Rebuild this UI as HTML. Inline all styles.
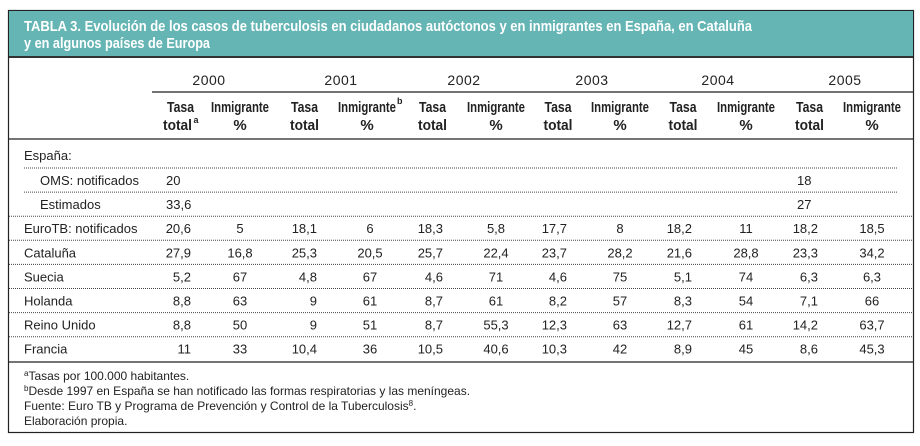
<!DOCTYPE html>
<html><head><meta charset="utf-8"><style>
html,body{margin:0;padding:0;background:#fff;}
svg{display:block;font-family:"Liberation Sans",sans-serif;}
</style></head><body>
<svg id="tbl" width="920" height="446" viewBox="0 0 920 446" xmlns="http://www.w3.org/2000/svg">
<rect x="8.5" y="10.5" width="905" height="422" fill="#fff" stroke="#222" stroke-width="1.2"/>
<rect x="9" y="11" width="904" height="45" fill="#66b5b5"/>
<line x1="9" y1="57" x2="913" y2="57" stroke="#333" stroke-width="2"/>
<text x="24" y="31" fill="#fff" font-size="15" font-weight="bold" textLength="728" lengthAdjust="spacingAndGlyphs">TABLA 3. Evolución de los casos de tuberculosis en ciudadanos autóctonos y en inmigrantes en España, en Cataluña</text>
<text x="24" y="48" fill="#fff" font-size="15" font-weight="bold" textLength="186" lengthAdjust="spacingAndGlyphs">y en algunos países de Europa</text>
<line x1="152" y1="92" x2="913" y2="92" stroke="#222" stroke-width="1.3"/>
<line x1="9" y1="139" x2="913" y2="139" stroke="#222" stroke-width="1.3"/>
<line x1="9" y1="362" x2="913" y2="362" stroke="#222" stroke-width="1.3"/>
<g id="body"></g>
<g font-size="12" fill="#222">
<text x="24" y="380"><tspan font-size="8" dy="-4">a</tspan><tspan dy="4">Tasas por 100.000 habitantes.</tspan></text>
<text x="24" y="395"><tspan font-size="8" dy="-4">b</tspan><tspan dy="4">Desde 1997 en España se han notificado las formas respiratorias y las meníngeas.</tspan></text>
<text x="24" y="410">Fuente: Euro TB y Programa de Prevención y Control de la Tuberculosis<tspan font-size="8" dy="-4">8</tspan><tspan dy="4">.</tspan></text>
<text x="24" y="425">Elaboración propia.</text>
</g>
</svg>
<script>
const years = ["2000","2001","2002","2003","2004","2005"];
const rowLabels = ["OMS: notificados","Estimados","EuroTB: notificados","Cataluña","Suecia","Holanda","Reino Unido","Francia"];
const tasaValues = [
 ["20","","","","","18"],
 ["33,6","","","","","27"],
 ["20,6","18,1","18,3","17,7","18,2","18,2"],
 ["27,9","25,3","25,7","23,7","21,6","23,3"],
 ["5,2","4,8","4,6","4,6","5,1","6,3"],
 ["8,8","9","8,7","8,2","8,3","7,1"],
 ["8,8","9","8,7","12,3","12,7","14,2"],
 ["11","10,4","10,5","10,3","8,9","8,6"]
];
const inmigValues = [
 ["","","","","",""],
 ["","","","","",""],
 ["5","6","5,8","8","11","18,5"],
 ["16,8","20,5","22,4","28,2","28,8","34,2"],
 ["67","67","71","75","74","6,3"],
 ["63","61","61","57","54","66"],
 ["50","51","55,3","63","61","63,7"],
 ["33","36","40,6","42","45","45,3"]
];
const NS="http://www.w3.org/2000/svg";
const g=document.getElementById('body');
const tasaLeft=[166,288,418,545,670,797], tasaRight=[191,317,443,567,692,818];
const inmigCenter=[240,370,496,620,746,872], yearCenter=[209,341,464,592,718,845];
function t(x,y,s,opts){const e=document.createElementNS(NS,'text');e.setAttribute('x',x);e.setAttribute('y',y);e.textContent=s;
 for(const k in opts)e.setAttribute(k,opts[k]);g.appendChild(e);return e;}
years.forEach((yr,i)=>{
 const e=t(yearCenter[i],85,yr,{'font-size':'14','text-anchor':'middle','fill':'#222','letter-spacing':'0.5'});
 
 
 const tc=(tasaLeft[i]+tasaRight[i])/2+2;
 const a=t(tc,112,'Tasa',{'font-size':'15','font-weight':'bold','text-anchor':'middle','fill':'#222','textLength':'27','lengthAdjust':'spacingAndGlyphs'});
 
 
 const b=t(tc-(i==0?3:0),130,'total',{'font-size':'15','font-weight':'bold','text-anchor':'middle','fill':'#222','textLength':'29','lengthAdjust':'spacingAndGlyphs'});
 
 
 if(i==0)t(tc+13,123,'a',{'font-size':'9','font-weight':'bold','fill':'#222'});
 const ic=inmigCenter[i]-(i==1?3:0);
 const c=t(ic,112,'Inmigrante',{'font-size':'15','font-weight':'bold','text-anchor':'middle','fill':'#222','textLength':'58','lengthAdjust':'spacingAndGlyphs'});
 
 
 if(i==1)t(ic+30,104,'b',{'font-size':'9','font-weight':'bold','fill':'#222'});
 const d=t(ic,130,'%',{'font-size':'15','font-weight':'bold','text-anchor':'middle','fill':'#222'});
 
 
});
const es=t(24,160,'España:',{'font-size':'13','fill':'#222'});


const rowTop=168, rowH=24.1;
rowLabels.forEach((lab,r)=>{
 const ly=rowTop+r*rowH;
 const ln=document.createElementNS(NS,'line');
 ln.setAttribute('x1', r<2?24:9); ln.setAttribute('x2', r<2?897:913);
 ln.setAttribute('y1',ly); ln.setAttribute('y2',ly);
 ln.setAttribute('stroke','#444'); ln.setAttribute('stroke-width','1'); ln.setAttribute('stroke-dasharray','1 1');
 
 
 g.appendChild(ln);
 const y=ly+17;
 const le=t(r<2?40:24,y,lab,{'font-size':'13','fill':'#222'});
 
 
 years.forEach((yr,i)=>{
  const tv=tasaValues[r][i];
  if(tv){const e= r<2 ? t(tasaLeft[i],y,tv,{'font-size':'13','fill':'#222'}) : t(tasaRight[i],y,tv,{'font-size':'13','fill':'#222','text-anchor':'end'});
   
   }
  const iv=inmigValues[r][i];
  if(iv){const e=t(inmigCenter[i],y,iv,{'font-size':'13','fill':'#222','text-anchor':'middle'});
   
   }
 });
});
</script>
</body></html>
